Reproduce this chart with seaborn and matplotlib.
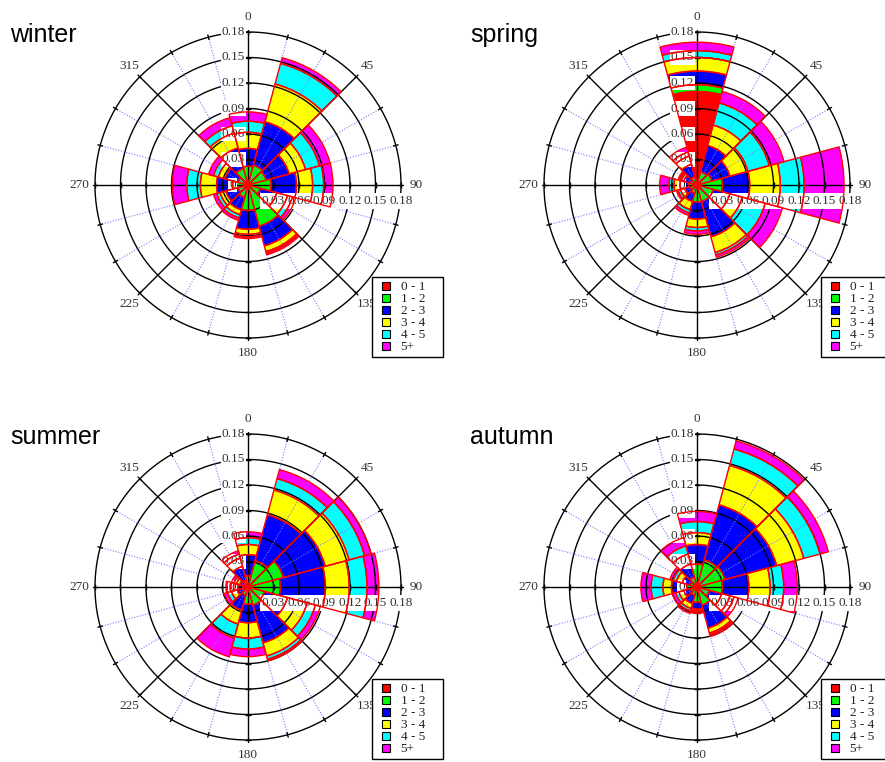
import numpy as np
import matplotlib
matplotlib.use("Agg")
import matplotlib.pyplot as plt
import matplotlib.transforms as mtransforms
from matplotlib.lines import Line2D
import seaborn as sns

# ---------------- data ----------------
directions = [0, 30, 60, 90, 120, 150, 180, 210, 240, 270, 300, 330]
speed_bins = ["0 - 1", "1 - 2", "2 - 3", "3 - 4", "4 - 5", "5+"]
seasons = ["winter", "spring", "summer", "autumn"]
radial_ticks = [0.03, 0.06, 0.09, 0.12, 0.15, 0.18]
radial_tick_labels = ["0.03", "0.06", "0.09", "0.12", "0.15", "0.18"]
angle_ticks = [0, 45, 90, 135, 180, 225, 270, 315]
angle_tick_labels = ["0", "45", "90", "135", "180", "225", "270", "315"]

# frequency of each speed bin per direction (directions order above)
winter_0_1 = [0.003] * 12
winter_1_2 = [0.019, 0.021, 0.019, 0.024, 0.012, 0.047, 0.027, 0.012, 0.009, 0.015, 0.009, 0.017]
winter_2_3 = [0.021, 0.053, 0.028, 0.030, 0.020, 0.024, 0.022, 0.015, 0.015, 0.019, 0.016, 0.025]
winter_3_4 = [0.019, 0.046, 0.020, 0.019, 0.013, 0.007, 0.006, 0.006, 0.007, 0.019, 0.008, 0.018]
winter_4_5 = [0.013, 0.025, 0.017, 0.013, 0.006, 0.002, 0.003, 0.004, 0.004, 0.016, 0.006, 0.009]
winter_5p = [0.011, 0.007, 0.013, 0.011, 0.004, 0.002, 0.002, 0.003, 0.004, 0.017, 0.006, 0.010]

spring_0_1 = [0.110, 0.004, 0.004, 0.003, 0.003, 0.003, 0.003, 0.003, 0.003, 0.003, 0.003, 0.003]
spring_1_2 = [0.008, 0.012, 0.014, 0.027, 0.017, 0.017, 0.017, 0.007, 0.005, 0.007, 0.005, 0.007]
spring_2_3 = [0.016, 0.032, 0.022, 0.032, 0.020, 0.043, 0.020, 0.010, 0.007, 0.010, 0.008, 0.015]
spring_3_4 = [0.016, 0.025, 0.022, 0.036, 0.015, 0.019, 0.010, 0.010, 0.005, 0.007, 0.003, 0.010]
spring_4_5 = [0.008, 0.027, 0.026, 0.028, 0.028, 0.003, 0.004, 0.004, 0.003, 0.006, 0.002, 0.005]
spring_5p = [0.010, 0.014, 0.018, 0.047, 0.021, 0.003, 0.004, 0.003, 0.002, 0.011, 0.002, 0.006]

summer_0_1 = [0.003] * 12
summer_1_2 = [0.010, 0.029, 0.040, 0.035, 0.017, 0.019, 0.017, 0.007, 0.003, 0.003, 0.002, 0.005]
summer_2_3 = [0.025, 0.056, 0.051, 0.053, 0.028, 0.046, 0.022, 0.018, 0.007, 0.006, 0.005, 0.017]
summer_3_4 = [0.012, 0.030, 0.029, 0.028, 0.024, 0.016, 0.018, 0.017, 0.007, 0.005, 0.004, 0.010]
summer_4_5 = [0.008, 0.014, 0.019, 0.021, 0.010, 0.004, 0.013, 0.017, 0.005, 0.004, 0.003, 0.005]
summer_5p = [0.007, 0.011, 0.008, 0.014, 0.006, 0.002, 0.009, 0.023, 0.004, 0.005, 0.003, 0.004]

autumn_0_1 = [0.003] * 12
autumn_1_2 = [0.024, 0.030, 0.031, 0.027, 0.012, 0.019, 0.015, 0.007, 0.005, 0.009, 0.005, 0.009]
autumn_2_3 = [0.023, 0.067, 0.063, 0.031, 0.015, 0.028, 0.008, 0.010, 0.008, 0.018, 0.010, 0.016]
autumn_3_4 = [0.014, 0.048, 0.033, 0.025, 0.010, 0.006, 0.002, 0.006, 0.006, 0.010, 0.007, 0.012]
autumn_4_5 = [0.013, 0.020, 0.020, 0.016, 0.005, 0.002, 0.001, 0.003, 0.004, 0.014, 0.004, 0.010]
autumn_5p = [0.012, 0.010, 0.010, 0.016, 0.005, 0.002, 0.002, 0.003, 0.004, 0.012, 0.004, 0.010]

season_data = {
    "winter": [winter_0_1, winter_1_2, winter_2_3, winter_3_4, winter_4_5, winter_5p],
    "spring": [spring_0_1, spring_1_2, spring_2_3, spring_3_4, spring_4_5, spring_5p],
    "summer": [summer_0_1, summer_1_2, summer_2_3, summer_3_4, summer_4_5, summer_5p],
    "autumn": [autumn_0_1, autumn_1_2, autumn_2_3, autumn_3_4, autumn_4_5, autumn_5p],
}

# ---------------- style ----------------
sns.set_style("white")
plt.rcParams["font.family"] = ["Liberation Serif", "DejaVu Serif"]
bin_colors = sns.color_palette(["#ff0000", "#00ff00", "#0000ff", "#ffff00", "#00ffff", "#ff00ff"])

W, H = 885, 762
R_PX = 153
centers = {"winter": (248, 185), "spring": (697, 185), "summer": (248, 587), "autumn": (697, 587)}
title_pos = {"winter": (10, 42), "spring": (470, 42), "summer": (10, 444), "autumn": (470, 444)}
label_color = "#333333"

fig = plt.figure(figsize=(W / 100, H / 100), dpi=100)
fig.patch.set_facecolor("white")

for season in seasons:
    cx, cy = centers[season]
    ax = fig.add_axes([(cx - R_PX) / W, (H - cy - R_PX) / H, 2 * R_PX / W, 2 * R_PX / H],
                      projection="polar")
    ax.set_theta_zero_location("N")
    ax.set_theta_direction(-1)
    ax.set_ylim(0, 0.18)
    ax.set_xticks([])
    ax.set_yticks([])
    ax.grid(False)
    ax.spines["polar"].set_visible(False)

    theta = np.deg2rad(directions)
    width = np.deg2rad(30)
    bottom = np.zeros(len(directions))
    for vals, color in zip(season_data[season], bin_colors):
        vals = np.asarray(vals)
        ax.bar(theta, vals, width=width, bottom=bottom, color=color, edgecolor="none",
               linewidth=0, zorder=1)
        ax.bar(theta, vals, width=width, bottom=bottom, fill=False, edgecolor="red",
               linewidth=1.0, zorder=4)
        bottom = bottom + vals

    # grid
    tt = np.linspace(0, 2 * np.pi, 721)
    for r in radial_ticks:
        ax.plot(tt, np.full_like(tt, r), color="black", lw=1.0, zorder=2, clip_on=False)
    for a in range(15, 360, 15):
        if a % 45:
            ax.plot([np.deg2rad(a)] * 2, [0, 0.18], color="#7a7aff", lw=0.8,
                    ls=(0, (1, 1.5)), zorder=2)
    for a in angle_ticks:
        ax.plot([np.deg2rad(a)] * 2, [0, 0.18], color="black", lw=1.0, zorder=2, clip_on=False)
    for a in range(0, 360, 15):
        ax.plot([np.deg2rad(a)] * 2, [0.1772, 0.1828], color="black", lw=1.0, zorder=2,
                clip_on=False)
    for a, mk in [(0, "_"), (180, "_"), (90, "|"), (270, "|")]:
        ax.plot([np.deg2rad(a)] * len(radial_ticks), radial_ticks, ls="none", marker=mk,
                ms=4, mew=1.0, color="black", zorder=2, clip_on=False)

    # radial labels along north axis
    off_left = mtransforms.offset_copy(ax.transData, fig=fig, x=-3, y=0, units="dots")
    for r, lab in zip(radial_ticks, radial_tick_labels):
        ax.text(0, r, lab, transform=off_left, ha="right", va="center", fontsize=9.5,
                color=label_color, bbox=dict(fc="white", ec="none", pad=0.8), zorder=3,
                clip_on=False)
    off_zero = mtransforms.offset_copy(ax.transData, fig=fig, x=-12, y=0, units="dots")
    ax.text(0, 0, "0", transform=off_zero, ha="right", va="center", fontsize=9.5,
            color=label_color, bbox=dict(fc="white", ec="none", pad=0.8), zorder=3)
    # radial labels along east axis
    off_down = mtransforms.offset_copy(ax.transData, fig=fig, x=0, y=-10, units="dots")
    for r, lab in zip(radial_ticks, radial_tick_labels):
        ax.text(np.pi / 2, r, lab, transform=off_down, ha="center", va="top", fontsize=9.5,
                color=label_color, bbox=dict(fc="white", ec="none", pad=1.4), zorder=3,
                clip_on=False)

    # angle labels
    for a, lab in zip(angle_ticks, angle_tick_labels):
        ax.text(np.deg2rad(a), 0.198, lab, ha="center", va="center", fontsize=9.5,
                color=label_color, zorder=3, clip_on=False)

    # legend
    handles = [Line2D([0], [0], ls="none", marker="s", ms=6, markerfacecolor=c,
                      markeredgecolor="black", markeredgewidth=0.8) for c in bin_colors]
    lx0 = (cx + 124) / W
    ltop = 1 - (cy + 92) / H
    leg = ax.legend(handles, speed_bins, loc="upper left",
                    bbox_to_anchor=(lx0, ltop - 80 / H, 71 / W, 80 / H),
                    bbox_transform=fig.transFigure, mode="expand", frameon=True,
                    fancybox=False, edgecolor="black", framealpha=1, fontsize=9.5,
                    labelspacing=0.0, handlelength=1.47, handleheight=0.6,
                    handletextpad=0.4, borderpad=0.3, borderaxespad=0, numpoints=1)
    leg.get_frame().set_linewidth(1.0)
    for t in leg.get_texts():
        t.set_color("#222222")
    leg.set_zorder(10)

    tx, ty = title_pos[season]
    fig.text(tx / W, 1 - ty / H, season, fontsize=18, family=["Liberation Sans", "DejaVu Sans"],
             ha="left", va="baseline", color="black")

fig.savefig("out.png", dpi=100, facecolor="white")
